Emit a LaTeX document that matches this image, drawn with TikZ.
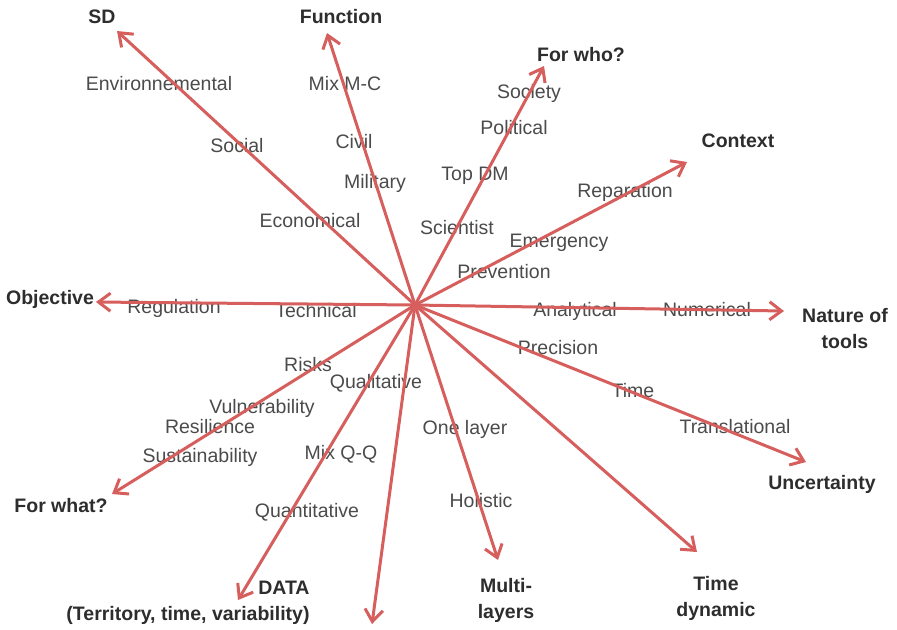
\documentclass[tikz,border=0pt]{standalone}
\usepackage{fontspec}
\setmainfont{Liberation Sans}
\usepackage{tikz}
\usetikzlibrary{arrows.meta}
\usepackage{xcolor}
\definecolor{arrowred}{RGB}{214,94,92}
\definecolor{headgray}{RGB}{45,45,45}
\definecolor{itemgray}{RGB}{75,75,75}

\begin{document}
\begin{tikzpicture}[
        x=0.5pt,
        y=-0.5pt,
        >={Straight Barb[length=6pt,width=9pt]},
        heading/.style={
            anchor=base,
            align=center,
            inner sep=0pt,
            text=headgray,
            font=\fontsize{9.75}{12.75}\selectfont\bfseries
        },
        item/.style={
            anchor=base,
            inner sep=0pt,
            text=itemgray,
            font=\fontsize{9.75}{12.5}\selectfont
        },
        line/.style={->, line width=1.5pt, draw=arrowred}
    ]

    \useasboundingbox (0,0) rectangle (897,629);

    % HUB AND ARROW ENDS
    \coordinate (hub) at (415,305);
    \coordinate (sd_tip) at (117,31);
    \coordinate (function_tip) at (327,33);
    \coordinate (forwho_tip) at (544,66);
    \coordinate (context_tip) at (687,162);
    \coordinate (tools_tip) at (784,311);
    \coordinate (uncert_tip) at (806,462);
    \coordinate (timedyn_tip) at (697,552);
    \coordinate (multi_tip) at (498,560);
    \coordinate (down_tip) at (372,624);
    \coordinate (data_tip) at (238,600);
    \coordinate (forwhat_tip) at (112,494);
    \coordinate (objective_tip) at (96,302);

    % AXIS NAMES (two-line names sit on their last line)
    \node[heading] (sd) at (102,23) {SD};
    \node[heading] (function) at (341,23) {Function};
    \node[heading] (forwho) at (581,61) {For who?};
    \node[heading] (context) at (738,147) {Context};
    \node[heading] (objective) at (50,304) {Objective};
    \node[heading] (tools) at (845,348) {Nature of\\tools};
    \node[heading] (uncert) at (822,489) {Uncertainty};
    \node[heading] (timedyn) at (716,616) {Time\\dynamic};
    \node[heading] (multi) at (506,618) {Multi-\\layers};
    \node[heading, align=right] (data) at (188,620) {DATA\\(Territory, time, variability)};
    \node[heading] (forwhat) at (61,512) {For what?};

    % LABELS ALONG THE AXES: upper half
    \node[item] (environ) at (159,90) {Environnemental};
    \node[item] (social) at (237,152) {Social};
    \node[item] (econ) at (310,227) {Economical};
    \node[item] (mixmc) at (345,90) {Mix M-C};
    \node[item] (civil) at (354,148) {Civil};
    \node[item] (military) at (375,188) {Military};
    \node[item] (society) at (529,98) {Society};
    \node[item] (political) at (514,134) {Political};
    \node[item] (topdm) at (475,180) {Top DM};
    \node[item] (scientist) at (457,234) {Scientist};
    \node[item] (reparation) at (625,197) {Reparation};
    \node[item] (emergency) at (559,247) {Emergency};
    \node[item] (prevention) at (504,278) {Prevention};
    \node[item] (regulation) at (174,313) {Regulation};
    \node[item] (technical) at (316,317) {Technical};
    \node[item] (analytical) at (575,316) {Analytical};
    \node[item] (numerical) at (707,316) {Numerical};

    % LABELS ALONG THE AXES: lower half
    \node[item] (precision) at (558,354) {Precision};
    \node[item] (time) at (633,397) {Time};
    \node[item] (translat) at (735,433) {Translational};
    \node[item] (risks) at (308,371) {Risks};
    \node[item] (qualit) at (376,388) {Qualitative};
    \node[item] (vulner) at (262,413) {Vulnerability};
    \node[item] (resil) at (210,433) {Resilience};
    \node[item] (sustain) at (200,462) {Sustainability};
    \node[item] (mixqq) at (341,459) {Mix Q-Q};
    \node[item] (onelayer) at (465,434) {One layer};
    \node[item] (holistic) at (481,507) {Holistic};
    \node[item] (quantit) at (307,517) {Quantitative};

    % ============================================================
    % CONNECTIONS: arrows out of the hub
    % ============================================================
    \draw[line] (hub) -- (sd_tip);
    \draw[line] (hub) -- (function_tip);
    \draw[line] (hub) -- (forwho_tip);
    \draw[line] (hub) -- (context_tip);
    \draw[line] (hub) -- (tools_tip);
    \draw[line] (hub) -- (uncert_tip);
    \draw[line] (hub) -- (timedyn_tip);
    \draw[line] (hub) -- (multi_tip);
    \draw[line] (hub) -- (down_tip);
    \draw[line] (hub) -- (data_tip);
    \draw[line] (hub) -- (forwhat_tip);
    \draw[line] (hub) -- (objective_tip);

\end{tikzpicture}
\end{document}
